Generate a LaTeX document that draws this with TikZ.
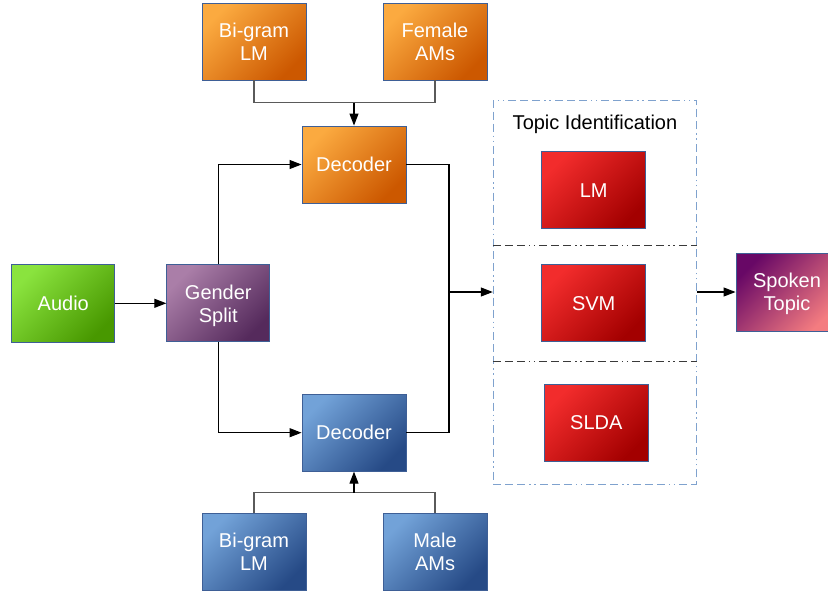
\documentclass[tikz,border=0pt]{standalone}
\usepackage{fontspec}
\setmainfont{Liberation Sans}
\usetikzlibrary{arrows.meta}

% box fills: light corner (A) and dark corner (B)
\definecolor{orA}{HTML}{FBAA40}
\definecolor{orB}{HTML}{CC5800}
\definecolor{blA}{HTML}{72A2D8}
\definecolor{blB}{HTML}{264A86}
\definecolor{grA}{HTML}{8AE33E}
\definecolor{grB}{HTML}{489800}
\definecolor{puA}{HTML}{AA7EA8}
\definecolor{puB}{HTML}{552A5C}
\definecolor{rdA}{HTML}{F22C2C}
\definecolor{rdB}{HTML}{A30000}
\definecolor{spA}{HTML}{680866}
\definecolor{spB}{HTML}{F47C80}
\definecolor{boxedge}{HTML}{3E5F96}
\definecolor{feedgray}{HTML}{5A5A5A}
\definecolor{dashblue}{HTML}{7FA2CE}
\definecolor{dashgray}{HTML}{3A3A3A}

\tikzset{
  box/.style={draw=boxedge, line width=0.9pt, minimum width=104pt,
    minimum height=77pt, inner sep=0pt, align=center, text=white,
    text depth=0pt, font=\fontsize{20}{23}\selectfont},
  fillpair/.style n args={2}{top color=#1, bottom color=#2, shading angle=45},
  orangebox/.style={box, fillpair={orA}{orB}},
  bluebox/.style={box, fillpair={blA}{blB}},
  greenbox/.style={box, fillpair={grA}{grB}},
  purplebox/.style={box, fillpair={puA}{puB}},
  redbox/.style={box, fillpair={rdA}{rdB}},
  topicbox/.style={box, fillpair={spA}{spB}},
  dashdots/.style={dash pattern=on 8pt off 4pt on 8pt off 4pt on 8pt off 4pt
    on 1.5pt off 3.5pt on 1.5pt off 4pt},
  groupbox/.style={draw=dashblue, line width=1pt, dashdots, inner sep=0pt,
    minimum width=203.4pt, minimum height=384pt},
  divider/.style={draw=dashgray, line width=1pt, dashdots},
  link/.style={line width=1.1pt, draw=black,
    -{Triangle[length=12pt,width=9pt]}},
  plain/.style={line width=1.1pt, draw=black},
  feed/.style={line width=1.5pt, draw=feedgray},
}

\begin{document}
\begin{tikzpicture}[x=1pt, y=-1pt]
  \useasboundingbox (0,0) rectangle (828,592);

  % acoustic side
  \node[orangebox] (bigramT) at (254,41.5) {Bi-gram\\LM};
  \node[orangebox] (femaleT) at (435,41.5) {Female\\AMs};
  \node[orangebox] (decT) at (354,164.5) {Decoder};

  \node[greenbox, minimum width=103pt, minimum height=78pt] (audio) at (63.3,303.3) {Audio};
  \node[purplebox, minimum width=103pt] (gender) at (218.3,303.3) {Gender\\Split};

  \node[bluebox] (decB) at (354,432.7) {Decoder};
  \node[bluebox] (bigramB) at (254,551.8) {Bi-gram\\LM};
  \node[bluebox] (maleB) at (435,551.8) {Male\\AMs};

  % topic identification group
  \node[groupbox] (tid) at (595,292) {};
  \node[anchor=base, font=\fontsize{20}{23}\selectfont] (tidtitle) at (595,129) {Topic Identification};
  \coordinate (divA) at (0,245);
  \coordinate (divB) at (0,361.7);
  \draw[divider] (tid.west |- divA) -- (tid.east |- divA);
  \draw[divider] (tid.west |- divB) -- (tid.east |- divB);

  \node[redbox] (lm) at (593.7,190.3) {LM};
  \node[redbox] (svm) at (593.7,303.3) {SVM};
  \node[redbox] (slda) at (596.3,422.8) {SLDA};

  \node[topicbox, minimum width=102pt, minimum height=78pt] (spoken) at (787,292) {Spoken\\Topic};

  % model inputs to the decoders
  \coordinate (joinT) at (354,102.7);
  \coordinate (joinB) at (354,492.7);
  \draw[feed] (bigramT.south) |- (joinT) -| (femaleT.south);
  \draw[link] (joinT) -- (decT.north);
  \draw[feed] (bigramB.north) |- (joinB) -| (maleB.north);
  \draw[link] (joinB) -- (decB.south);

  % main flow
  \draw[link] (audio.east) -- (gender.west);
  \draw[link] (gender.north) |- (decT.west);
  \draw[link] (gender.south) |- (decB.west);
  \coordinate (merge) at (449,292);
  \draw[plain] (decT.east) -| (merge);
  \draw[plain] (decB.east) -| (merge);
  \draw[link] (merge) -- (tid.west);
  \draw[link] (tid.east) -- (spoken.west);
\end{tikzpicture}
\end{document}
